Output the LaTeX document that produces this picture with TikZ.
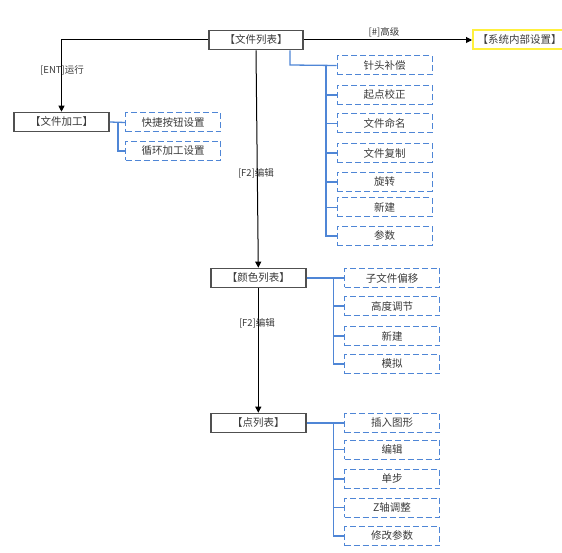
\documentclass[tikz,border=0pt]{standalone}
\usepackage{fontspec}
\setmainfont{Noto Sans CJK SC}
\usetikzlibrary{arrows.meta}
\definecolor{txt}{HTML}{3A3A3A}
\definecolor{bl}{HTML}{4F86D6}
\definecolor{frame}{HTML}{505050}
\definecolor{yel}{HTML}{FFF03C}
\tikzset{
  mainbox/.style={draw=frame, line width=1.6pt, fill=white, minimum width=94pt, minimum height=19pt, inner sep=0pt, text=txt, font=\fontsize{10.5}{12}\selectfont},
  subbox/.style={draw=bl, dashed, dash pattern=on 6pt off 3pt, line width=1pt, minimum width=95pt, minimum height=19pt, inner sep=0pt, text=txt, font=\fontsize{10.5}{12}\selectfont},
  sysbox/.style={draw=yel, line width=2pt, minimum width=94pt, minimum height=19pt, inner sep=0pt, text=txt, font=\fontsize{10.5}{12}\selectfont},
  flow/.style={draw=black, line width=1pt, -{Triangle[length=6pt,width=6pt]}},
  link/.style={draw=bl, line width=1.3pt},
  lbl/.style={text=txt, font=\fontsize{9.5}{11}\selectfont, inner sep=0pt}
}
\begin{document}
\begin{tikzpicture}[x=1pt,y=-1pt]
\useasboundingbox (0,0) rectangle (562,553);
% main nodes
\node[mainbox] (fl) at (256,40) {【文件列表】};
\node[mainbox, minimum width=95pt] (jg) at (61.5,122) {【文件加工】};
\node[mainbox, minimum width=95pt] (ys) at (258.3,278) {【颜色列表】};
\node[mainbox, minimum width=95pt] (dl) at (258.3,423) {【点列表】};
\node[sysbox, anchor=west] (xt) at (472,40) {\hspace*{3pt}【系统内部设置】\hspace*{4pt}};
% 文件加工 children
\node[subbox] (k1) at (173,122.5) {快捷按钮设置};
\node[subbox] (k2) at (173,151) {循环加工设置};
% 文件列表 children
\node[subbox] (a1) at (384.5,65.5) {针头补偿};
\node[subbox] (a2) at (384.5,95) {起点校正};
\node[subbox] (a3) at (384.5,123.5) {文件命名};
\node[subbox] (a4) at (384.5,153) {文件复制};
\node[subbox] (a5) at (384.5,182) {旋转};
\node[subbox] (a6) at (384.5,207.5) {新建};
\node[subbox] (a7) at (384.5,236) {参数};
% 颜色列表 children
\node[subbox] (b1) at (392,278) {子文件偏移};
\node[subbox] (b2) at (392,306) {高度调节};
\node[subbox] (b3) at (392,336) {新建};
\node[subbox] (b4) at (392,364) {模拟};
% 点列表 children
\node[subbox] (c1) at (392,423) {插入图形};
\node[subbox] (c2) at (392,449.5) {编辑};
\node[subbox] (c3) at (392,479) {单步};
\node[subbox] (c4) at (392,507.5) {Z轴调整};
\node[subbox] (c5) at (392,536) {修改参数};
% flow arrows
\draw[flow] (fl.west) -| (jg.north);
\draw[flow] (fl.east) -- (xt.west);
\draw[flow] (fl.south) -- (ys.north);
\draw[flow] (ys.south) -- (dl.north);
% labels
\node[lbl] (l1) at (62,70) {[ENT]运行};
\node[lbl] (l2) at (384,32) {[\#]高级};
\node[lbl] (l3) at (256,173) {[F2]编辑};
\node[lbl] (l4) at (257,323) {[F2]编辑};
% blue links: 文件加工
\coordinate (v0) at (118,122);
\draw[link] (jg.east) -- (k1.west);
\draw[link] (v0) |- (k2.west);
% blue links: 文件列表
\coordinate (j1) at (290,65);
\coordinate (v1) at (326,65);
\draw[link] (fl.south -| j1) -- (j1) -- (a1.west);
\draw[link] (v1) -- (v1 |- a7.west) -- (a7.west);
\foreach \n in {a2,a3,a4,a5,a6} \draw[link] (v1 |- \n.west) -- (\n.west);
% blue links: 颜色列表
\coordinate (v2) at (333.3,278);
\draw[link] (ys.east) -- (b1.west);
\draw[link] (v2) -- (v2 |- b4.west) -- (b4.west);
\foreach \n in {b2,b3} \draw[link] (v2 |- \n.west) -- (\n.west);
% blue links: 点列表
\coordinate (v3) at (333.3,423);
\draw[link] (dl.east) -- (c1.west);
\draw[link] (v3) -- (v3 |- c5.west) -- (c5.west);
\foreach \n in {c2,c3,c4} \draw[link] (v3 |- \n.west) -- (\n.west);
\end{tikzpicture}
\end{document}
